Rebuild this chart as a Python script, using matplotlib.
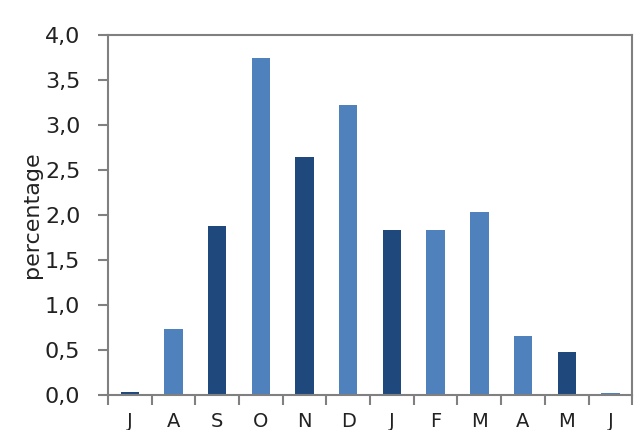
import matplotlib
matplotlib.use("Agg")
import matplotlib.pyplot as plt
from matplotlib.ticker import FuncFormatter, MultipleLocator, FixedLocator, NullFormatter

months = ["J", "A", "S", "O", "N", "D", "J", "F", "M", "A", "M", "J"]
values = [0.03, 0.73, 1.88, 3.75, 2.65, 3.22, 1.83, 1.83, 2.03, 0.66, 0.48, 0.02]
shade = ["dark", "light", "dark", "light", "dark", "light", "dark", "light", "light", "light", "dark", "light"]
palette = {"light": "#4F81BD", "dark": "#1F497D"}

fig = plt.figure(figsize=(6.36, 4.30), dpi=100)
ax = fig.add_axes([0.170, 0.0814, 0.824, 0.8372])

x = list(range(len(months)))
ax.bar(x, values, width=0.42, color=[palette[s] for s in shade], zorder=2)

ax.set_xlim(-0.5, len(months) - 0.5)
ax.set_ylim(0, 4.0)
ax.yaxis.set_major_locator(MultipleLocator(0.5))
ax.yaxis.set_major_formatter(FuncFormatter(lambda v, p: f"{v:.1f}".replace(".", ",")))

ax.set_xticks(x)
ax.set_xticklabels(months)
ax.xaxis.set_minor_locator(FixedLocator([i - 0.5 for i in range(len(months) + 1)]))
ax.xaxis.set_minor_formatter(NullFormatter())
ax.tick_params(axis="x", which="major", length=0, pad=12, labelsize=14, colors="#222222")
ax.tick_params(axis="x", which="minor", length=7, width=1.5, color="#808080", direction="out")
ax.tick_params(axis="y", length=7, width=1.5, color="#808080", direction="out", labelsize=16, labelcolor="#222222", pad=13)

for sp in ax.spines.values():
    sp.set_color("#808080")
    sp.set_linewidth(1.5)

ax.set_ylabel("percentage", fontsize=16, color="#222222", labelpad=2)

fig.savefig("out.png", dpi=100)
